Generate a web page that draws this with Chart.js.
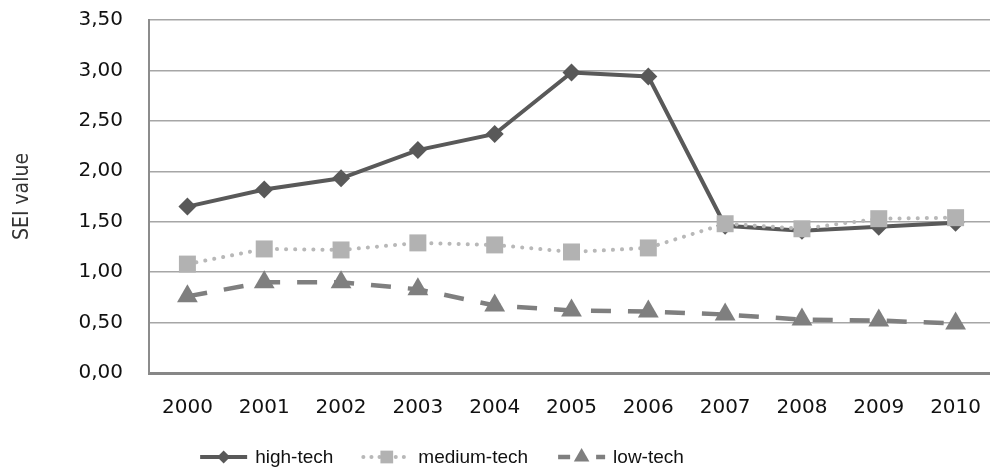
<!DOCTYPE html>
<html>
<head>
<meta charset="utf-8">
<script src="https://cdn.jsdelivr.net/npm/chart.js@4/dist/chart.umd.min.js"></script>
<style>
  html, body { margin: 0; padding: 0; background: #fff; overflow: hidden; }
  #wrap { width: 990px; height: 470px; overflow: hidden; }
  canvas { display: block; }
</style>
</head>
<body>
<div id="wrap"><canvas id="sei" width="994" height="470"></canvas></div>
<script>
const years = ['2000', '2001', '2002', '2003', '2004', '2005', '2006', '2007', '2008', '2009', '2010'];
const highTech = [1.65, 1.82, 1.93, 2.21, 2.37, 2.98, 2.94, 1.46, 1.41, 1.45, 1.49];
const mediumTech = [1.08, 1.23, 1.22, 1.29, 1.27, 1.20, 1.24, 1.48, 1.43, 1.53, 1.54];
const lowTech = [0.76, 0.90, 0.90, 0.83, 0.67, 0.62, 0.61, 0.58, 0.53, 0.52, 0.49];
const yTicks = [0, 0.5, 1, 1.5, 2, 2.5, 3, 3.5];

// legend under the plot: line sample with marker, then label
const lineLegend = {
  id: 'lineLegend',
  afterDraw(chart) {
    const ctx = chart.ctx;
    const y = 457;
    const sample = 47, gap = 8, between = 30;
    ctx.save();
    ctx.font = '19px "Liberation Sans", Arial, sans-serif';
    ctx.textBaseline = 'middle';
    const items = chart.data.datasets.map(ds => ({ ds, w: ctx.measureText(ds.label).width }));
    let total = items.reduce((s, it) => s + sample + gap + it.w, 0) + between * (items.length - 1);
    let x = 442 - total / 2;
    items.forEach(({ ds, w }) => {
      ctx.save();
      ctx.strokeStyle = ds.borderColor;
      ctx.lineWidth = ds.borderWidth;
      ctx.lineCap = ds.borderCapStyle || 'butt';
      ctx.setLineDash(ds.legendDash || ds.borderDash || []);
      ctx.beginPath();
      ctx.moveTo(x, y);
      ctx.lineTo(x + sample, y);
      ctx.stroke();
      ctx.setLineDash([]);
      ctx.fillStyle = ds.pointBackgroundColor;
      Chart.helpers.drawPoint(ctx, {
        pointStyle: ds.pointStyle,
        radius: ds.legendRadius,
        rotation: 0,
        borderWidth: 0
      }, x + sample / 2, y);
      ctx.restore();
      ctx.fillStyle = '#111';
      ctx.fillText(ds.label, x + sample + gap, y + 1);
      x += sample + gap + w + between;
    });
    ctx.restore();
  }
};

new Chart(document.getElementById('sei'), {
  type: 'line',
  data: {
    labels: years,
    datasets: [
      {
        label: 'high-tech',
        data: highTech,
        order: 3,
        borderColor: '#595959',
        borderWidth: 4,
        pointStyle: 'rectRot',
        pointRadius: 9,
        pointBackgroundColor: '#595959',
        pointBorderWidth: 0,
        legendRadius: 6.5,
        tension: 0
      },
      {
        label: 'medium-tech',
        data: mediumTech,
        order: 1,
        borderColor: '#b8b8b8',
        borderWidth: 4,
        borderDash: [0.1, 9],
        legendDash: [0.1, 8],
        borderCapStyle: 'round',
        pointStyle: 'rect',
        pointRadius: 12,
        pointBackgroundColor: '#b2b2b2',
        pointBorderWidth: 0,
        legendRadius: 9,
        tension: 0
      },
      {
        label: 'low-tech',
        data: lowTech,
        order: 2,
        borderColor: '#7f7f7f',
        borderWidth: 4.5,
        borderDash: [20, 17],
        legendDash: [12, 26],
        pointStyle: 'triangle',
        pointRadius: 12,
        pointBackgroundColor: '#7f7f7f',
        pointBorderWidth: 0,
        legendRadius: 9,
        tension: 0
      }
    ]
  },
  options: {
    responsive: false,
    animation: false,
    layout: { autoPadding: false, padding: { top: 20, left: 0, right: 0, bottom: 0 } },
    plugins: {
      legend: { display: false },
      tooltip: { enabled: false }
    },
    scales: {
      x: {
        offset: true,
        grid: { display: false, drawTicks: false },
        border: { display: true, color: '#878787', width: 3 },
        ticks: {
          color: '#111',
          padding: 23,
          font: { family: '"DejaVu Sans", Verdana, sans-serif', size: 20 }
        },
        afterFit(scale) {
          scale.height = 97;
          scale.paddingLeft = 0;
          scale.paddingRight = 0;
        }
      },
      y: {
        min: 0,
        max: 3.5,
        afterBuildTicks(scale) { scale.ticks = yTicks.map(v => ({ value: v })); },
        grid: { color: '#a6a6a6', lineWidth: 1.5, drawTicks: false },
        border: { display: true, color: '#8c8c8c', width: 2 },
        ticks: {
          color: '#111',
          padding: 26,
          font: { family: '"DejaVu Sans", Verdana, sans-serif', size: 20 },
          callback: v => v.toFixed(2).replace('.', ',')
        },
        title: {
          display: true,
          text: 'SEI value',
          color: '#333',
          padding: { top: 10, bottom: 0 },
          font: { family: '"Liberation Sans Narrow", "DejaVu Sans Condensed", sans-serif', size: 21 }
        },
        afterFit(scale) {
          scale.width = 149;
          scale.paddingTop = 0;
          scale.paddingBottom = 0;
        }
      }
    }
  },
  plugins: [lineLegend]
});
</script>
</body>
</html>
